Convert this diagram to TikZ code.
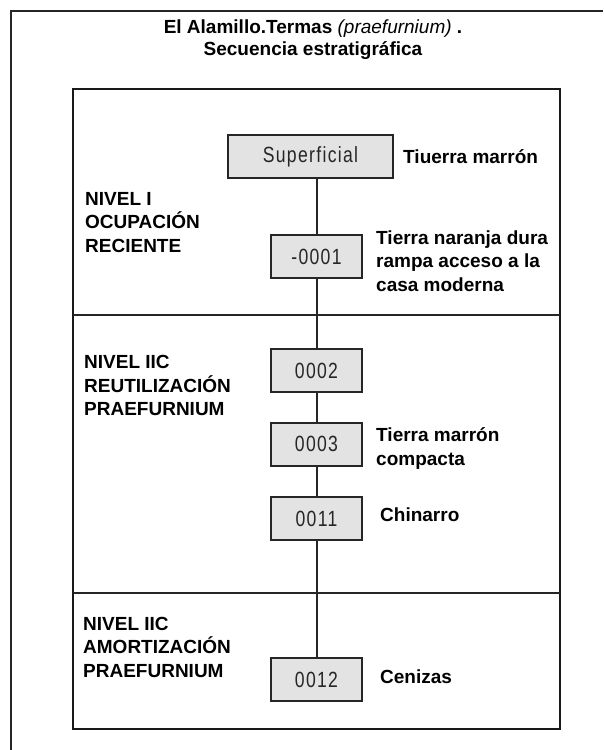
\documentclass[tikz,border=0pt]{standalone}
\usepackage{fontspec}
\setmainfont{Liberation Sans}
\newfontfamily\unitfont[FakeStretch=0.8,LetterSpace=6]{Liberation Sans}
\usetikzlibrary{positioning}
\definecolor{unitfill}{HTML}{E3E3E3}
\definecolor{edge}{HTML}{262626}

\begin{document}
\begin{tikzpicture}[x=1pt, y=-1pt,
    unit/.style={draw=edge, line width=2pt, fill=unitfill, minimum width=91pt, minimum height=43pt,
      inner sep=0pt, text=black!85, font=\unitfont\fontsize{22}{22}\selectfont},
    note/.style={anchor=base west, align=left, inner sep=0pt, font=\bfseries\fontsize{19}{23.5}\selectfont},
    link/.style={draw=edge, line width=2pt}]
    \useasboundingbox (0,0) rectangle (603,750);
    % frames
    \path[draw=edge, line width=2pt] (10.5,750) -- (10.5,10.5) -- (603,10.5);
    \path[draw=black!90, line width=2.2pt] (73,89) rectangle (560,729);
    \coordinate (n1w) at (73,315);
    \coordinate (n1e) at (560,315);
    \coordinate (n2w) at (73,593);
    \coordinate (n2e) at (560,593);
    \path[link] (n1w) -- (n1e);
    \path[link] (n2w) -- (n2e);
    % title
    \node[anchor=base, inner sep=0pt, font=\bfseries\fontsize{19}{23}\selectfont] (title) at (313,33.5)
      {El Alamillo.Termas {\mdseries\itshape (praefurnium)} .};
    \node[anchor=base, inner sep=0pt, font=\bfseries\fontsize{19}{23}\selectfont] (subtitle) at (313,55.5)
      {Secuencia estratigráfica};
    % units
    \node[unit, minimum width=165pt] (sup) at (310.5,156.5) {Superficial};
    \node[unit] (u0001) at (316.5,256.5) {-0001};
    \node[unit] (u0002) at (316.5,370.5) {0002};
    \node[unit] (u0003) at (316.5,444) {0003};
    \node[unit] (u0011) at (316.5,518.5) {0011};
    \node[unit] (u0012) at (316.5,679.5) {0012};
    % sequence
    \path[link] (u0001.north) -- (u0001.north |- sup.south);
    \foreach \a/\b in {u0001/u0002, u0002/u0003, u0003/u0011, u0011/u0012}
      \path[link] (\a.south) -- (\b.north);
    % levels (base = last line)
    \node[note] (lvl1) at (85,252) {NIVEL I\\OCUPACIÓN\\RECIENTE};
    \node[note] (lvl2) at (84,415.5) {NIVEL IIC\\REUTILIZACIÓN\\PRAEFURNIUM};
    \node[note] (lvl3) at (83,677) {NIVEL IIC\\AMORTIZACIÓN\\PRAEFURNIUM};
    % descriptions
    \node[note] (dsup) at (403,163.5) {Tiuerra marrón};
    \node[note] (d0001) at (376,291) {Tierra naranja dura\\rampa acceso a la\\casa moderna};
    \node[note] (d0003) at (376,465) {Tierra marrón\\compacta};
    \node[note] (d0011) at (380,521.5) {Chinarro};
    \node[note] (d0012) at (380,683.5) {Cenizas};
\end{tikzpicture}
\end{document}
